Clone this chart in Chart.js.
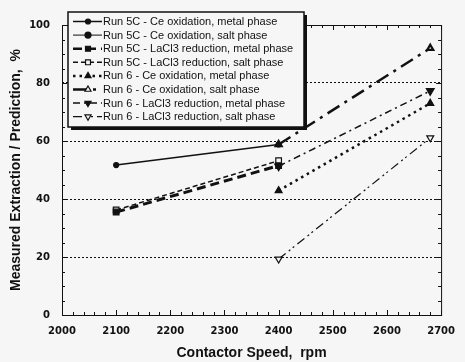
<!DOCTYPE html>
<html>
<head>
<meta charset="utf-8">
<script src="https://cdn.jsdelivr.net/npm/chart.js@4.4.1/dist/chart.umd.min.js"></script>
<style>
  html, body { margin: 0; padding: 0; background: #f6f6f6; }
  canvas { display: block; }
</style>
</head>
<body>
<canvas id="extractionChart" width="465" height="362"></canvas>
<script>
// Datos
const speeds5C = [2100, 2400];
const speeds6 = [2400, 2680];

const run5CCeMetal = [51.7, 58.8];
const run5CCeSalt = [];
const run5CLaMetal = [35.5, 51.5];
const run5CLaSalt = [36.2, 53.2];
const run6CeMetal = [42.9, 73.0];
const run6CeSalt = [58.8, 92.0];
const run6LaMetal = [51.3, 77.3];
const run6LaSalt = [19.3, 61.1];

const seriesLabels = [
  "Run 5C - Ce oxidation, metal phase",
  "Run 5C - Ce oxidation, salt phase",
  "Run 5C - LaCl3 reduction, metal phase",
  "Run 5C - LaCl3 reduction, salt phase",
  "Run 6 - Ce oxidation, metal phase",
  "Run 6 - Ce oxidation, salt phase",
  "Run 6 - LaCl3 reduction, metal phase",
  "Run 6 - LaCl3 reduction, salt phase"
];

const xTicks = [2000, 2100, 2200, 2300, 2400, 2500, 2600, 2700];
const yTicks = [0, 20, 40, 60, 80, 100];

const ink = "#111111";
const paper = "#f6f6f6";

const seriesStyles = [
  { dash: [], width: 1.5, point: "circle", radius: 2.5, open: false, rotation: 0, pw: 1.2 },
  { dash: [], width: 1, point: "circle", radius: 3, open: false, rotation: 0, pw: 1.2 },
  { dash: [9, 5], width: 3, point: "rect", radius: 4, open: false, rotation: 0, pw: 1.2 },
  { dash: [5, 3], width: 1.5, point: "rect", radius: 4, open: true, rotation: 0, pw: 1.2 },
  { dash: [2.5, 4], width: 2.5, point: "triangle", radius: 4, open: false, rotation: 0, pw: 1.2 },
  { dash: [14, 6, 3, 6], width: 2.5, point: "triangle", radius: 3.5, open: true, rotation: 0, pw: 2.2 },
  { dash: [7, 4, 2, 4], width: 1.5, point: "triangle", radius: 4.5, open: false, rotation: 180, pw: 1.2 },
  { dash: [9, 4, 2, 3, 2, 4], width: 1.2, point: "triangle", radius: 4, open: true, rotation: 180, pw: 1.2 }
];

const seriesX = [speeds5C, speeds5C, speeds5C, speeds5C, speeds6, speeds6, speeds6, speeds6];
const seriesY = [run5CCeMetal, run5CCeSalt, run5CLaMetal, run5CLaSalt, run6CeMetal, run6CeSalt, run6LaMetal, run6LaSalt];

function toPoints(xs, ys) {
  return ys.map((v, i) => ({ x: xs[i], y: v }));
}

const datasets = seriesLabels.map((label, i) => {
  const s = seriesStyles[i];
  return {
    label: label,
    data: toPoints(seriesX[i], seriesY[i]),
    borderColor: ink,
    borderWidth: s.width,
    borderDash: s.dash,
    backgroundColor: s.open ? paper : ink,
    pointStyle: s.point,
    pointRotation: s.rotation,
    pointRadius: s.radius,
    pointBorderWidth: s.pw,
    pointBorderColor: ink,
    pointBackgroundColor: s.open ? paper : ink,
    fill: false,
    tension: 0,
    clip: false
  };
});

// Marco, marcas menores y leyenda dibujada dentro del área
const frameAndLegend = {
  id: "frameAndLegend",
  afterDatasetsDraw(chart) {
    const ctx = chart.ctx;
    const a = chart.chartArea;
    const xs = chart.scales.x;
    const ys = chart.scales.y;
    ctx.save();
    ctx.strokeStyle = ink;
    ctx.lineWidth = 1;
    ctx.setLineDash([]);
    ctx.strokeRect(a.left + 0.5, a.top + 0.5, a.right - a.left, a.bottom - a.top);
    ctx.beginPath();
    for (let v = 0; v <= 100; v += 5) {
      const py = Math.round(ys.getPixelForValue(v)) + 0.5;
      const len = v % 20 === 0 ? 5 : 3;
      ctx.moveTo(a.left, py); ctx.lineTo(a.left + len, py);
      ctx.moveTo(a.right, py); ctx.lineTo(a.right - len, py);
    }
    for (let v = 2000; v <= 2700; v += 20) {
      const px = Math.round(xs.getPixelForValue(v)) + 0.5;
      const len = v % 100 === 0 ? 5 : 3;
      ctx.moveTo(px, a.bottom); ctx.lineTo(px, a.bottom - len);
      ctx.moveTo(px, a.top); ctx.lineTo(px, a.top + len);
    }
    ctx.stroke();
    ctx.restore();
  },
  afterDraw(chart) {
    const ctx = chart.ctx;
    const box = { x: 68, y: 12, w: 236, h: 115 };
    ctx.save();
    // sombra
    ctx.fillStyle = ink;
    ctx.fillRect(box.x + 3, box.y + 3, box.w, box.h);
    ctx.fillStyle = paper;
    ctx.fillRect(box.x, box.y, box.w, box.h);
    ctx.strokeStyle = ink;
    ctx.lineWidth = 1.5;
    ctx.setLineDash([]);
    ctx.strokeRect(box.x, box.y, box.w, box.h);

    ctx.font = "11px 'Liberation Sans', Arial, sans-serif";
    ctx.textBaseline = "middle";
    ctx.textAlign = "left";
    chart.data.datasets.forEach((ds, i) => {
      const y = box.y + 9.5 + i * 13.6;
      ctx.strokeStyle = ink;
      ctx.lineWidth = Math.min(ds.borderWidth, 2.5);
      ctx.setLineDash(ds.borderDash);
      ctx.beginPath();
      ctx.moveTo(box.x + 5, y);
      ctx.lineTo(box.x + 34, y);
      ctx.stroke();
      ctx.setLineDash([]);
      ctx.fillStyle = ds.pointBackgroundColor;
      ctx.lineWidth = 1.2;
      Chart.helpers.drawPoint(ctx, {
        pointStyle: ds.pointStyle,
        rotation: ds.pointRotation,
        radius: Math.min(ds.pointRadius, 3.5),
        borderWidth: 1.2
      }, box.x + 20, y);
      ctx.fillStyle = ink;
      ctx.fillText(ds.label, box.x + 35, y + 0.5);
    });
    ctx.restore();
  }
};

let extractionChart;

document.addEventListener("DOMContentLoaded", () => {
  const ctx = document.getElementById("extractionChart").getContext("2d");
  extractionChart = new Chart(ctx, {
    type: "line",
    data: { datasets: datasets },
    options: {
      responsive: false,
      animation: false,
      layout: { padding: { left: 0, top: 25, right: 14, bottom: 0 } },
      plugins: {
        legend: { display: false },
        tooltip: { enabled: false }
      },
      scales: {
        x: {
          type: "linear",
          min: 2000,
          max: 2700,
          afterFit: (scale) => { scale.height = 47; },
          afterBuildTicks: (scale) => { scale.ticks = xTicks.map(v => ({ value: v })); },
          grid: { display: false, drawTicks: false },
          border: { display: false },
          ticks: {
            color: ink,
            padding: 10,
            maxRotation: 0,
            callback: (v) => String(v),
            font: { family: "'DejaVu Sans', sans-serif", size: 10, weight: "bold" }
          },
          title: {
            display: true,
            text: "Contactor Speed,  rpm",
            color: ink,
            padding: { top: 0, bottom: 0 },
            font: { family: "'Liberation Sans', Arial, sans-serif", size: 14, weight: "bold" }
          }
        },
        y: {
          min: 0,
          max: 100,
          afterFit: (scale) => { scale.width = 62; },
          afterBuildTicks: (scale) => { scale.ticks = yTicks.map(v => ({ value: v })); },
          grid: {
            drawTicks: false,
            lineWidth: 1,
            color: (c) => (c.tick && c.tick.value > 0 && c.tick.value < 100) ? ink : "rgba(0,0,0,0)"
          },
          border: { display: false, dash: [2, 2] },
          ticks: {
            color: ink,
            padding: 12,
            callback: (v) => String(v),
            font: { family: "'DejaVu Sans', sans-serif", size: 10, weight: "bold" }
          },
          title: {
            display: true,
            text: "Measured Extraction / Prediction,  %",
            color: ink,
            padding: { top: 8, bottom: 0 },
            font: { family: "'Liberation Sans', Arial, sans-serif", size: 14, weight: "bold" }
          }
        }
      }
    },
    plugins: [frameAndLegend]
  });
});
</script>
</body>
</html>
